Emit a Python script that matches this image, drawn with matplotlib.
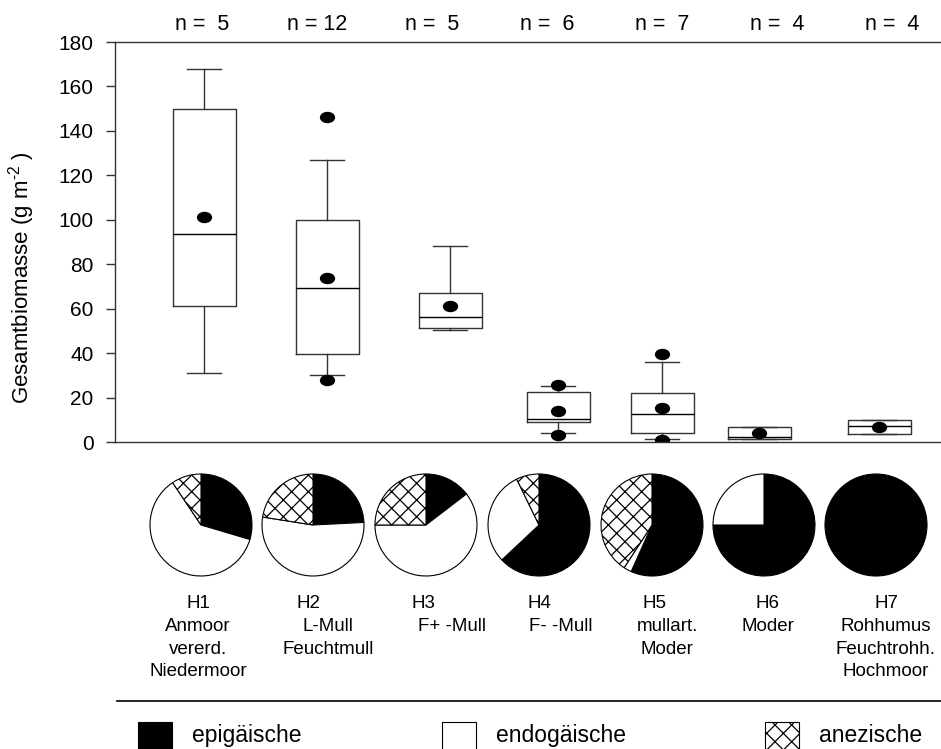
import matplotlib
matplotlib.use("Agg")
import matplotlib.pyplot as plt
from matplotlib.patches import Rectangle
from matplotlib.path import Path
from matplotlib.transforms import Affine2D

plt.rcParams['font.family'] = ['Liberation Sans', 'DejaVu Sans']
plt.rcParams['mathtext.default'] = 'regular'
plt.rcParams['hatch.linewidth'] = 0.9

# --- data ---------------------------------------------------------------
horizons = ['H1', 'H2', 'H3', 'H4', 'H5', 'H6', 'H7']
humus = [['Anmoor', 'vererd.', 'Niedermoor'],
         ['L-Mull', 'Feuchtmull'],
         ['F+ -Mull'],
         ['F- -Mull'],
         ['mullart.', 'Moder'],
         ['Moder'],
         ['Rohhumus', 'Feuchtrohh.', 'Hochmoor']]
n_plots = [5, 12, 5, 6, 7, 4, 4]

# Gesamtbiomasse (g m-2)
median = [93.5, 69.2, 56.1, 10.4, 12.5, 2.4, 7.2]
q1 = [61.2, 39.6, 51.4, 8.9, 4.2, 1.3, 3.4]
q3 = [149.7, 99.9, 66.9, 22.4, 21.9, 6.9, 9.9]
whis_lo = [30.9, 30.2, 50.4, 3.9, 1.4, 1.3, 3.4]
whis_hi = [167.7, 126.8, 88.4, 25.2, 36.1, 6.9, 9.9]
mean = [101.4, 73.9, 61.3, 14.0, 15.2, 4.2, 6.6]
outliers = [[], [146.1, 27.9], [], [25.6, 3.2], [39.4, 0.9], [], []]

# Anteile der Lebensformtypen (%)
epigaeisch = [29.6, 24.2, 14.6, 63.0, 56.7, 75.0, 100.0]
endogaeisch = [61.0, 53.3, 60.4, 29.8, 2.5, 25.0, 0.0]
anezisch = [9.4, 22.5, 25.0, 7.2, 40.8, 0.0, 0.0]
groups = ['epigäische', 'endogäische', 'anezische']

# --- layout (pixel coordinates of the 941 x 749 picture) ----------------
W, H = 941, 749
box_x = [204, 327, 450, 558, 662, 759, 879]
n_x = [202, 317, 432, 547, 662, 777, 892]
pie_x = [201, 313, 426, 539, 652, 764, 876]
hlab_x = [198, 309, 423, 539, 655, 768, 887]
desc_x = [198, 328, 452, 561, 667, 768, 886]
edge = '0.2'

fig = plt.figure(figsize=(W / 100, H / 100), dpi=100)

# Boxplots
ax = fig.add_axes([115 / W, (H - 442) / H, (W - 115) / W, 400 / H])
stats = []
for i in range(len(horizons)):
    stats.append(dict(label=horizons[i], med=median[i], q1=q1[i], q3=q3[i],
                      whislo=whis_lo[i], whishi=whis_hi[i], mean=mean[i],
                      fliers=outliers[i]))

ellipse = Path.unit_circle().transformed(Affine2D().scale(1.0, 0.72))
dot = dict(marker=ellipse, markersize=10, markerfacecolor='black',
           markeredgecolor='black', linestyle='none')
line = dict(color=edge, linewidth=1.0)
ax.bxp(stats, positions=box_x, widths=63, capwidths=34, showmeans=True,
       boxprops=line, whiskerprops=line, capprops=line,
       medianprops=dict(color='black', linewidth=1.0),
       meanprops=dot, flierprops=dot, manage_ticks=False)

ax.set_xlim(115, W)
ax.set_ylim(0, 180)
ax.set_yticks(range(0, 181, 20))
ax.set_xticks([])
ax.tick_params(axis='y', direction='out', length=6.5, width=1.0,
               color=edge, labelsize=15, pad=9)
ax.spines['right'].set_visible(False)
for s in ['left', 'top', 'bottom']:
    ax.spines[s].set_color(edge)
    ax.spines[s].set_linewidth(1.0)

# Overlay for pies, labels and legend (y measured from the top)
ov = fig.add_axes([0, 0, 1, 1])
ov.patch.set_visible(False)

def fy(py):
    return H - py

# hyphen (U+2010) instead of the mathtext minus, as in the original
ov.text(22, fy(278), 'Gesamtbiomasse (g m$^{\u20102}$ )', rotation=90,
        ha='center', va='center', fontsize=16)

for i, n in enumerate(n_plots):
    ov.text(n_x[i], fy(30), 'n = %2d' % n if n >= 10 else 'n =  %d' % n,
            ha='center', va='baseline', fontsize=15.5)

fills = [('black', None), ('white', None), ('white', 'xx')]
for i in range(len(horizons)):
    vals = [epigaeisch[i], endogaeisch[i], anezisch[i]]
    keep = [k for k in range(3) if vals[k] > 0]
    wedges, _ = ov.pie([vals[k] for k in keep], center=(pie_x[i], fy(525)),
                       radius=51, startangle=90, counterclock=False,
                       colors=[fills[k][0] for k in keep], frame=True,
                       wedgeprops=dict(edgecolor='black', linewidth=0.8))
    for w, k in zip(wedges, keep):
        if fills[k][1]:
            w.set_hatch(fills[k][1])

    ov.text(hlab_x[i], fy(608), horizons[i], ha='center', va='baseline',
            fontsize=13.5)
    for j, txt in enumerate(humus[i]):
        ov.text(desc_x[i], fy(631 + 22.6 * j), txt, ha='center',
                va='baseline', fontsize=13.5)

ov.plot([117, W], [fy(701), fy(701)], color='black', linewidth=1.2)

leg_x = [138, 442, 765]
for k, name in enumerate(groups):
    ov.add_patch(Rectangle((leg_x[k], fy(757)), 34, 35,
                           facecolor=fills[k][0], edgecolor='black',
                           linewidth=0.8, hatch=fills[k][1]))
    ov.text(leg_x[k] + 54, fy(742), name, ha='left', va='baseline',
            fontsize=16.5)

ov.set_xlim(0, W)
ov.set_ylim(0, H)
ov.set_aspect('auto')
ov.axis('off')

fig.savefig('out.png', dpi=100)
